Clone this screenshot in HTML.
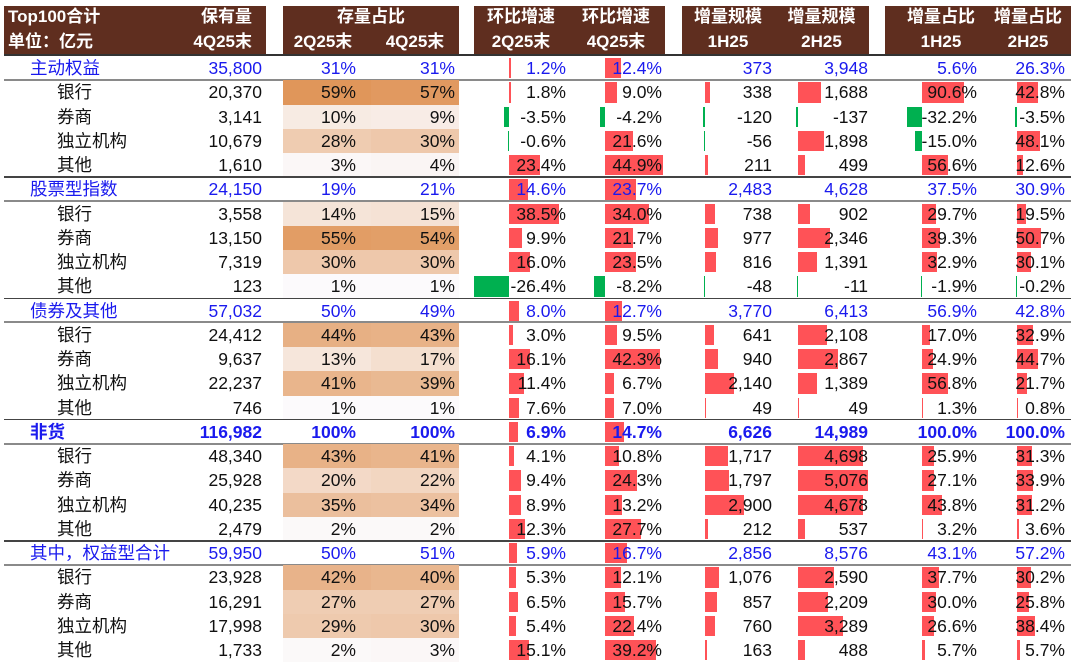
<!DOCTYPE html>
<html><head><meta charset="utf-8">
<style>
body{margin:0;width:1080px;height:664px;background:#fff;position:relative;overflow:hidden;font-family:"Liberation Sans","Noto Sans CJK SC",sans-serif;}
.a{position:absolute;}
.hd{position:absolute;background:#5f2e1f;top:6px;height:48px;}
.ht{position:absolute;color:#fff;font-weight:bold;font-size:17px;white-space:nowrap;line-height:22px;}
.t{position:absolute;font-size:17.5px;line-height:24px;white-space:nowrap;color:#111;}
.g{color:#1a1aee;}
</style></head><body>
<div class="hd" style="left:4px;width:262px"></div>
<div class="hd" style="left:283px;width:176px"></div>
<div class="hd" style="left:474px;width:191px"></div>
<div class="hd" style="left:682px;width:187px"></div>
<div class="hd" style="left:885px;width:186px"></div>
<div class="ht" style="left:8px;top:6px">Top100合计</div>
<div class="ht" style="left:8px;top:31px">单位：亿元</div>
<div class="ht" style="left:170px;width:82px;text-align:right;top:6px">保有量</div>
<div class="ht" style="left:170px;width:82px;text-align:right;top:31px">4Q25末</div>
<div class="ht" style="left:283px;width:176px;text-align:center;top:6px">存量占比</div>
<div class="ht" style="left:283px;width:80px;text-align:center;top:31px">2Q25末</div>
<div class="ht" style="left:375px;width:80px;text-align:center;top:31px">4Q25末</div>
<div class="ht" style="left:474px;width:94px;text-align:center;top:6px">环比增速</div>
<div class="ht" style="left:474px;width:94px;text-align:center;top:31px">2Q25末</div>
<div class="ht" style="left:568px;width:96px;text-align:center;top:6px">环比增速</div>
<div class="ht" style="left:568px;width:96px;text-align:center;top:31px">4Q25末</div>
<div class="ht" style="left:682px;width:92px;text-align:center;top:6px">增量规模</div>
<div class="ht" style="left:682px;width:92px;text-align:center;top:31px">1H25</div>
<div class="ht" style="left:774px;width:95px;text-align:center;top:6px">增量规模</div>
<div class="ht" style="left:774px;width:95px;text-align:center;top:31px">2H25</div>
<div class="ht" style="left:895px;width:92px;text-align:center;top:6px">增量占比</div>
<div class="ht" style="left:895px;width:92px;text-align:center;top:31px">1H25</div>
<div class="ht" style="left:983px;width:90px;text-align:center;top:6px">增量占比</div>
<div class="ht" style="left:983px;width:90px;text-align:center;top:31px">2H25</div>
<div class="a" style="left:4px;top:54px;width:1067px;height:1.5px;background:#333"></div>
<div id="tb" class="a" style="left:0;top:0;width:1080px;height:664px"></div>
<script>
const labels=["主动权益","银行","券商","独立机构","其他","股票型指数","银行","券商","独立机构","其他","债券及其他","银行","券商","独立机构","其他","非货","银行","券商","独立机构","其他","其中，权益型合计","银行","券商","独立机构","其他"];
const holdings=[35800,20370,3141,10679,1610,24150,3558,13150,7319,123,57032,24412,9637,22237,746,116982,48340,25928,40235,2479,59950,23928,16291,17998,1733];
const share2Q=[31,59,10,28,3,19,14,55,30,1,50,44,13,41,1,100,43,20,35,2,50,42,27,29,2];
const share4Q=[31,57,9,30,4,21,15,54,30,1,49,43,17,39,1,100,41,22,34,2,51,40,27,30,3];
const qoq2Q=[1.2,1.8,-3.5,-0.6,23.4,14.6,38.5,9.9,16.0,-26.4,8.0,3.0,16.1,11.4,7.6,6.9,4.1,9.4,8.9,12.3,5.9,5.3,6.5,5.4,15.1];
const qoq4Q=[12.4,9.0,-4.2,21.6,44.9,23.7,34.0,21.7,23.5,-8.2,12.7,9.5,42.3,6.7,7.0,14.7,10.8,24.3,13.2,27.7,16.7,12.1,15.7,22.4,39.2];
const inc1H=[373,338,-120,-56,211,2483,738,977,816,-48,3770,641,940,2140,49,6626,1717,1797,2900,212,2856,1076,857,760,163];
const inc2H=[3948,1688,-137,1898,499,4628,902,2346,1391,-11,6413,2108,2867,1389,49,14989,4698,5076,4678,537,8576,2590,2209,3289,488];
const incShare1H=[5.6,90.6,-32.2,-15.0,56.6,37.5,29.7,39.3,32.9,-1.9,56.9,17.0,24.9,56.8,1.3,100.0,25.9,27.1,43.8,3.2,43.1,37.7,30.0,26.6,5.7];
const incShare2H=[26.3,42.8,-3.5,48.1,12.6,30.9,19.5,50.7,30.1,-0.2,42.8,32.9,44.7,21.7,0.8,100.0,31.3,33.9,31.2,3.6,57.2,30.2,25.8,38.4,5.7];

const T=56,RH=24.25,tb=document.getElementById('tb');
const isGroup=i=>i%5===0;
function el(css,txt,name,cls){const d=document.createElement('div');d.className=cls||'a';d.style.cssText=css;if(txt!==undefined)d.textContent=txt;


tb.appendChild(d);return d;}
const fmt=n=>n.toLocaleString('en-US');
const pct1=n=>n.toFixed(1)+'%';
function heat(v){const a=[252,252,255],b=[224,150,90];const t=Math.min(v/59,1);return 'rgb('+a.map((x,k)=>Math.round(x+(b[k]-x)*t)).join(',')+')';}
function bar(i,axis,scale,v,maxL,maxR,name){const y=T+i*RH+2;const w=Math.max(1,Math.abs(v)*scale);let x,ww;
 if(v>=0){ww=Math.min(w,maxR-axis);x=axis;}else{ww=Math.min(w,axis-maxL);x=axis-ww;}
 el(`left:${x}px;top:${y}px;width:${ww}px;height:${RH-4}px;background:${v>=0?'#ff5257':'#00b050'}`,undefined,name);}
const qS2=1.31,qS4=1.3,i1S=0.01345,i2S=0.0138,p1S=0.46,p2S=0.48;
for(let i=0;i<labels.length;i++){
 const y=T+i*RH,g=isGroup(i);
 if(g&&i>0) el(`left:4px;top:${y-1}px;width:1067px;height:1.5px;background:#444`,undefined,'group-separator');
 if(g) el(`left:4px;top:${y+RH-1.5}px;width:1067px;height:2px;background:#8a8a8a`,undefined,'group-underline');
 if(!g){
  el(`left:283px;top:${y}px;width:88px;height:${RH}px;background:${heat(share2Q[i])}`,undefined,'share-2q-cell');
  el(`left:371px;top:${y}px;width:88px;height:${RH}px;background:${heat(share4Q[i])}`,undefined,'share-4q-cell');
 }
 bar(i,509,qS2,qoq2Q[i],474,568,'qoq-2q-bar');
 bar(i,605,qS4,qoq4Q[i],568,665,'qoq-4q-bar');
 if(!g){
  bar(i,705,i1S,inc1H[i],682,774,'inc-1h-bar');
  bar(i,798,i2S,inc2H[i],774,869,'inc-2h-bar');
  bar(i,922,p1S,incShare1H[i],885,985,'incshare-1h-bar');
  bar(i,1017,p2S,incShare2H[i],985,1071,'incshare-2h-bar');
 }
 const st=`top:${y}px;`+(i===15?'font-weight:bold;':'');
 const c='t'+(g?' g':'');
 el(st+`left:${g?30:57}px`,labels[i],'row-label',c);
 const R=(r,txt,n)=>el(st+`left:${r-120}px;width:120px;text-align:right`,txt,n,c);
 R(262,fmt(holdings[i]),'holdings-value');
 R(356,share2Q[i]+'%','share-2q-value');
 R(455,share4Q[i]+'%','share-4q-value');
 R(566,pct1(qoq2Q[i]),'qoq-2q-value');
 R(662,pct1(qoq4Q[i]),'qoq-4q-value');
 R(772,fmt(inc1H[i]),'inc-1h-value');
 R(868,fmt(inc2H[i]),'inc-2h-value');
 R(977,pct1(incShare1H[i]),'incshare-1h-value');
 R(1065,pct1(incShare2H[i]),'incshare-2h-value');
}
</script>
</body></html>
